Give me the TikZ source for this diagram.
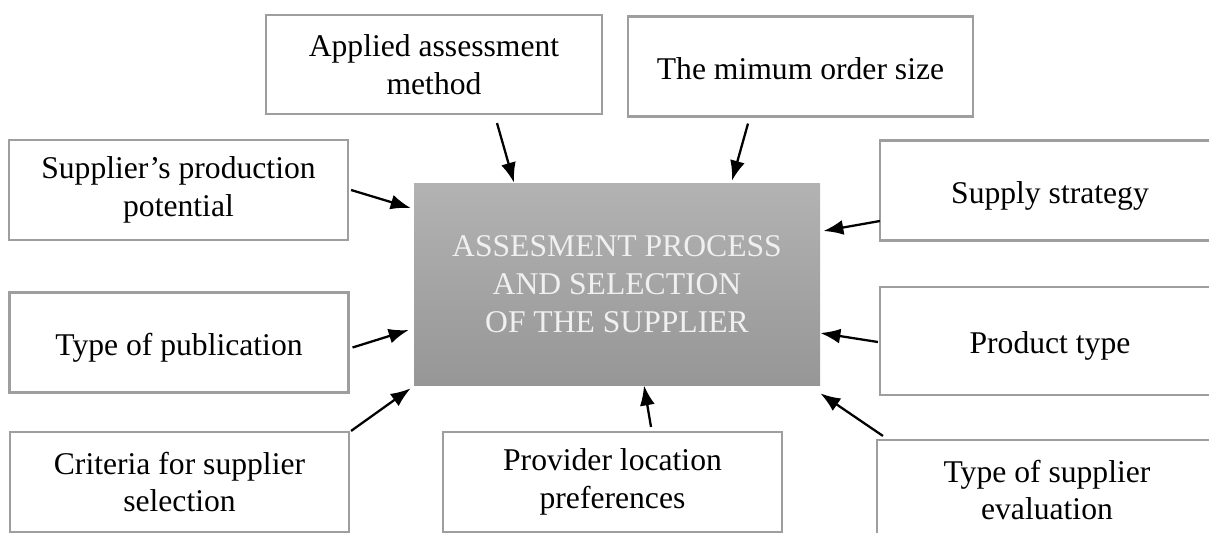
\documentclass[tikz,border=0pt]{standalone}
\usepackage{fontspec}
\setmainfont{Liberation Serif}
\usepackage{tikz}
\usetikzlibrary{%
  arrows.meta,%
  calc%
}
\tikzset{>={Latex[length=0.4cm,width=0.3cm]}}
\tikzset{factor/.style = {draw=black!38, line width=1.2pt, minimum width=6.78cm,
        minimum height=2cm, align=center, font=\fontsize{18}{21.6}\selectfont},%
    oneline/.style={text height=0.6cm, text depth=0.1cm},%
    process/.style={shading=axis, top color=black!30, bottom color=black!41,
        minimum width=8.12cm, minimum height=4.04cm, align=center,
        text=white!94!black, font=\fontsize{18}{21.6}\selectfont},%
    influence/.style={->, line width=1.3pt}}

\begin{document}
\begin{tikzpicture}
    \useasboundingbox (0,0) rectangle (24.18,10.64);
    \clip (0,0) rectangle (24.18,10.64);
    \node[process] (proc) at (12.34,4.96) {ASSESMENT PROCESS\\AND SELECTION\\OF THE SUPPLIER};
    % factors above and left
    \node[factor,minimum width=6.72cm,minimum height=1.98cm] (applied) at (8.68,9.35) {Applied assessment\\method};
    \node[factor,oneline,minimum width=6.9cm] (ordersize) at (16.01,9.31) {The mimum order size};
    \node[factor] (potential) at (3.57,6.84) {Supplier's production\\potential};
    \node[factor,oneline] (publication) at (3.58,3.79) {Type of publication};
    \node[factor] (criteria) at (3.59,1.0) {Criteria for supplier\\selection};
    % factors right and below
    \node[factor,oneline,minimum width=6.8cm] (strategy) at (21.0,6.83) {Supply strategy};
    \node[factor,oneline,minimum width=6.8cm,minimum height=2.16cm] (product) at (21.0,3.82) {Product type};
    \node[factor,minimum width=6.8cm] (evaluation) at (20.94,0.84) {Type of supplier\\evaluation};
    \node[factor] (provider) at (12.25,1.0) {Provider location\\preferences};
    % arrows into the process
    \draw[influence] ([xshift=1.26cm,yshift=-0.16cm]applied.south) -- ([xshift=-2.06cm]proc.north);
    \draw[influence] ([xshift=-1.05cm,yshift=-0.12cm]ordersize.south) -- ([xshift=2.3cm,yshift=0.04cm]proc.north);
    \draw[influence] ([xshift=0.04cm]potential.east) -- ([xshift=-0.06cm,yshift=1.52cm]proc.west);
    \draw[influence] ([xshift=0.06cm,yshift=-0.1cm]publication.east) -- ([xshift=-0.1cm,yshift=-0.92cm]proc.west);
    \draw[influence] ([xshift=0.02cm]criteria.north east) -- ([xshift=-0.06cm,yshift=-0.06cm]proc.south west);
    \draw[influence] ([xshift=0.02cm,yshift=-0.61cm]strategy.west) -- ([xshift=0.06cm,yshift=1.06cm]proc.east);
    \draw[influence] ([xshift=-0.02cm,yshift=-0.02cm]product.west) -- ([yshift=-0.98cm]proc.east);
    \draw[influence] ([xshift=0.14cm,yshift=0.06cm]evaluation.north west) -- ([yshift=-0.16cm]proc.south east);
    \draw[influence] ([xshift=0.77cm,yshift=0.08cm]provider.north) -- ([xshift=0.54cm]proc.south);
  \end{tikzpicture}
\end{document}
